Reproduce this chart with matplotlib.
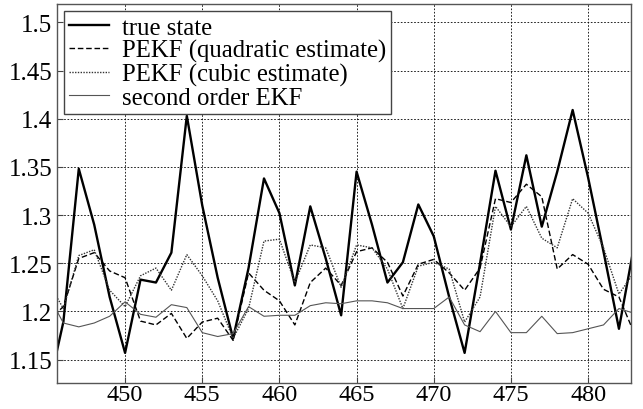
import matplotlib
matplotlib.use("Agg")
import matplotlib.pyplot as plt
from matplotlib.ticker import FuncFormatter

plt.rcParams['font.family'] = ['Liberation Serif', 'DejaVu Serif']

steps = list(range(445, 484))

true_state = [1.117, 1.189, 1.348, 1.290, 1.215, 1.157, 1.233, 1.230, 1.261, 1.403,
              1.310, 1.235, 1.172, 1.245, 1.338, 1.302, 1.227, 1.309, 1.255, 1.196,
              1.345, 1.290, 1.230, 1.251, 1.311, 1.278, 1.215, 1.157, 1.250, 1.346,
              1.285, 1.362, 1.288, 1.345, 1.409, 1.339, 1.262, 1.182, 1.270]

pekf_quadratic = [1.190, 1.205, 1.255, 1.261, 1.242, 1.235, 1.190, 1.186, 1.198, 1.172,
                  1.189, 1.193, 1.170, 1.240, 1.222, 1.211, 1.186, 1.230, 1.245, 1.227,
                  1.262, 1.266, 1.251, 1.216, 1.249, 1.254, 1.240, 1.222, 1.245, 1.317,
                  1.313, 1.332, 1.319, 1.244, 1.259, 1.249, 1.223, 1.215, 1.177]

pekf_cubic = [1.231, 1.203, 1.258, 1.264, 1.222, 1.205, 1.237, 1.245, 1.222, 1.259,
              1.237, 1.211, 1.172, 1.203, 1.273, 1.275, 1.230, 1.269, 1.266, 1.225,
              1.269, 1.266, 1.244, 1.203, 1.247, 1.251, 1.244, 1.189, 1.215, 1.309,
              1.288, 1.309, 1.276, 1.266, 1.317, 1.302, 1.266, 1.218, 1.241]

second_order_ekf = [1.218, 1.188, 1.184, 1.188, 1.195, 1.210, 1.197, 1.194, 1.207, 1.204,
                    1.178, 1.174, 1.177, 1.205, 1.195, 1.196, 1.196, 1.206, 1.209, 1.208,
                    1.211, 1.211, 1.209, 1.203, 1.203, 1.203, 1.215, 1.186, 1.179, 1.200,
                    1.178, 1.178, 1.195, 1.177, 1.178, 1.182, 1.186, 1.203, 1.198]

labels = ["true state", "PEKF (quadratic estimate)", "PEKF (cubic estimate)", "second order EKF"]

x_ticks = [450, 455, 460, 465, 470, 475, 480]
y_ticks = [1.15, 1.2, 1.25, 1.3, 1.35, 1.4, 1.45, 1.5]

fig = plt.figure(figsize=(6.43, 4.10), dpi=100)
ax = fig.add_axes([0.0882, 0.064, 0.8936, 0.9238])

ax.plot(steps, true_state, color='black', lw=1.7, ls='-', label=labels[0])
ax.plot(steps, pekf_quadratic, color='black', lw=1.0, ls=(0, (4, 2)), label=labels[1])
ax.plot(steps, pekf_cubic, color='#333333', lw=1.0, ls=(0, (1, 1)), label=labels[2])
ax.plot(steps, second_order_ekf, color='#555555', lw=0.8, ls='-', label=labels[3])

ax.set_xlim(445.57, 482.8)
ax.set_ylim(1.126, 1.519)
ax.set_xticks(x_ticks)
ax.set_yticks(y_ticks)
ax.yaxis.set_major_formatter(FuncFormatter(lambda v, p: f"{v:g}"))
ax.grid(True, color='black', ls=(0, (2, 2)), lw=0.6)
ax.tick_params(direction='in', length=4, labelsize=18, pad=3, color='#444444')
ax.tick_params(axis='x', pad=1, labelsize=17.5)
for s in ax.spines.values():
    s.set_color('#555555')
    s.set_linewidth(1.0)

leg = ax.legend(loc='upper left', fontsize=17.8, handlelength=1.6, handletextpad=0.55,
                labelspacing=0.02, borderpad=0.2, borderaxespad=0.3, fancybox=False,
                framealpha=1, edgecolor='#444444')
leg.get_frame().set_linewidth(1.0)

fig.savefig("out.png", dpi=100, facecolor='white')
